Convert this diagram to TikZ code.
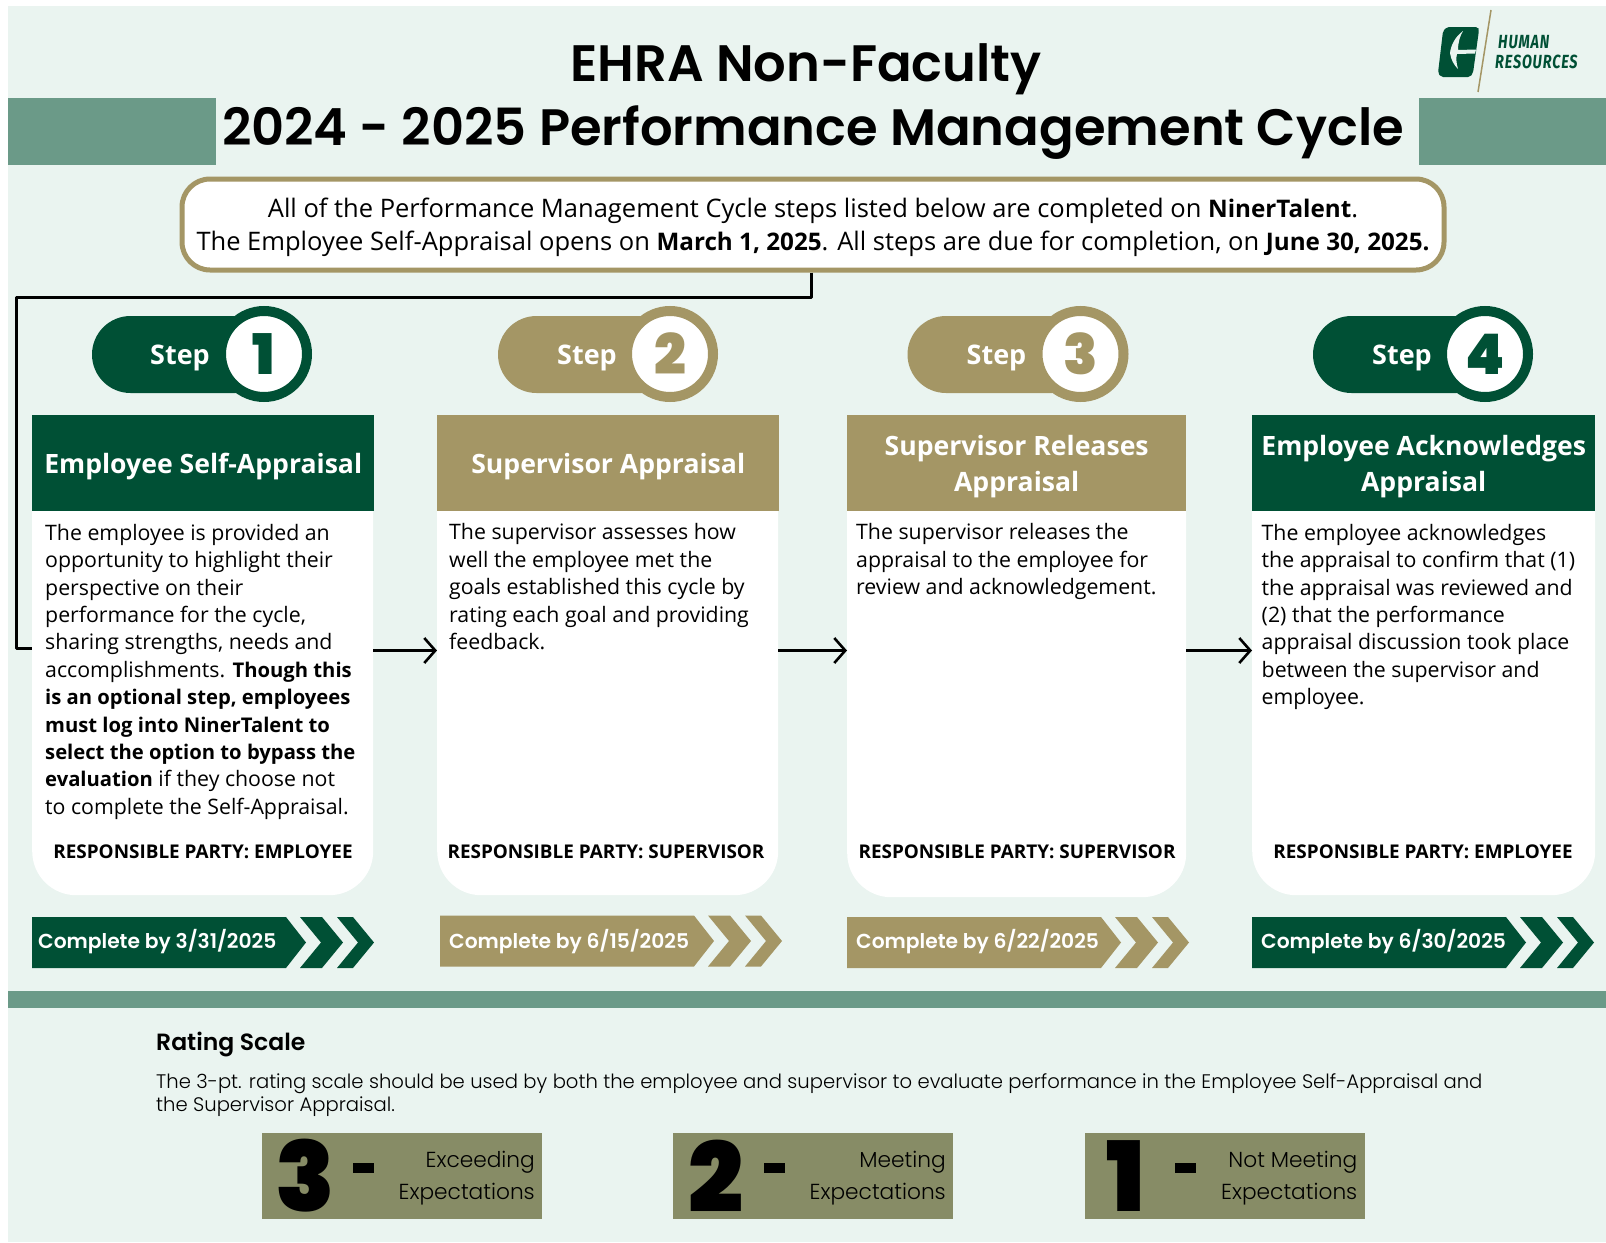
\documentclass[tikz,border=0pt]{standalone}
\usepackage{fontspec}
\usetikzlibrary{arrows.meta,calc}
\setmainfont{Open Sans}[BoldFeatures={Scale=0.95}]
\newfontfamily\semifont{Poppins SemiBold}
\newfontfamily\heavyfont{Poppins Black}
\newfontfamily\lightfont{Poppins Light}
\newfontfamily\logofont[ItalicFont=Fira Sans Italic,BoldItalicFont=Fira Sans Bold Italic,LetterSpace=6]{Fira Sans}
\definecolor{bgc}{HTML}{EAF4F0}
\definecolor{barc}{HTML}{6B9A88}
\definecolor{greenc}{HTML}{005035}
\definecolor{goldc}{HTML}{A49665}
\definecolor{olivec}{HTML}{878C66}
\tikzset{
  x=1pt,y=-1pt,
  cardbox/.style={fill=white,rounded corners=44pt,minimum width=#1,minimum height=480pt,inner sep=0pt,anchor=north west},
  headbox/.style={fill=#1,text=white,minimum height=96pt,inner sep=0pt,anchor=north west,align=center,font=\fontsize{28}{36}\selectfont\bfseries},
  bodytext/.style={anchor=north west,inner sep=0pt,align=left,font=\fontsize{21.3}{27.4}\selectfont},
  partytext/.style={inner sep=0pt,font=\fontsize{19.9}{24}\selectfont\bfseries},
  flow/.style={line width=2.6pt,black,-{Straight Barb[length=11pt,width=25pt,line width=2.6pt]}},
  steptext/.style={inner sep=0pt,text=white,font=\fontsize{28.4}{30}\selectfont\bfseries},
  ratebox/.style={fill=olivec,minimum width=280pt,minimum height=86pt,inner sep=0pt,anchor=north west},
  ratetext/.style={anchor=east,inner sep=0pt,align=right,font=\lightfont\fontsize{21.7}{33}\selectfont},
}
\newcommand{\stepbadge}[6]{% name, left, circle x, text x, colour, digit
  \fill[#5,rounded corners=38.5pt] (#2,316) rectangle (#3+10,393);
  \node[circle,fill=white,draw=#5,line width=10pt,minimum size=86pt,inner sep=0pt] (#1c) at (#3,354) {};
  \node[inner sep=0pt,text=#5,font=\heavyfont\fontsize{56}{56}\selectfont] (#1d) at (#3,354) {#6};
  \node[steptext] (#1t) at (#4,358) {Step};
}
\newcommand{\chevrow}[6]{% name, x, top y, colour, text, text position
  \begin{scope}[shift={(#2,#3)}]
    \fill[#4] (0,0) -- (254,0) -- (274,25.5) -- (254,51) -- (0,51) -- cycle;
    \fill[#4] (268,0) -- (290,0) -- (311,25.5) -- (290,51) -- (268,51) -- (289,25.5) -- cycle;
    \fill[#4] (305,0) -- (321,0) -- (342,25.5) -- (321,51) -- (305,51) -- (326,25.5) -- cycle;
    \node[anchor=west,inner sep=0pt,text=white,font=\semifont\fontsize{20.25}{24}\selectfont] (#1) at (#6) {#5};
  \end{scope}
}
\newcommand{\ratecard}[5]{% name, x, digit, line 1, digit x offset
  \node[ratebox] (#1) at (#2,1133) {};
  \node[inner sep=0pt,font=\heavyfont\fontsize{97}{97}\selectfont] (#1n) at (#2+#5,1176) {#3};
  \fill (#2+90.5,1163) rectangle (#2+111.5,1173);
  \node[ratetext] (#1a) at (#2+273,1162) {#4};
  \node[ratetext] (#1b) at (#2+273,1194.5) {Expectations};
}
\begin{document}
\begin{tikzpicture}
\useasboundingbox (0,0) rectangle (1606,1242);
\fill[white] (0,0) rectangle (1606,1242);
\fill[bgc] (8,6) rectangle (1606,1242);
% header bars
\fill[barc] (8,98) rectangle (216,165);
\fill[barc] (1419,98) rectangle (1606,165);
\node[anchor=base,inner sep=0pt,font=\semifont\fontsize{51.2}{60}\selectfont] (title1) at (806,81) {EHRA Non-Faculty};
\node[anchor=base,inner sep=0pt,font=\semifont\fontsize{51.2}{60}\selectfont] (title2) at (813,145) {2024 - 2025 Performance Management Cycle};
% logo
\fill[greenc,rounded corners=2pt] (1447,27) -- (1478,27) -- (1479,30) -- (1473,73) -- (1470,77) -- (1441,77) -- (1438,73) -- (1443,31) -- cycle;
\fill[bgc] (1463,31) .. controls (1455,37) and (1451,45) .. (1450,53) .. controls (1451,60) and (1454,65) .. (1458,69) .. controls (1456,62) and (1456,58) .. (1457,54) -- (1475,53.5) -- (1476,49.5) -- (1458,50) .. controls (1458,42) and (1460,36) .. (1463,31) -- cycle;
\draw[goldc,line width=1.5pt] (1491,10) -- (1478,92);
\node[anchor=west,inner sep=0pt,text=greenc] (hr1) at (1498,42) {\scalebox{0.76}[1]{\logofont\fontsize{19}{22}\selectfont\bfseries\itshape HUMAN}};
\node[anchor=west,inner sep=0pt,text=greenc] (hr2) at (1495,62) {\scalebox{0.76}[1]{\logofont\fontsize{19}{22}\selectfont\bfseries\itshape RESOURCES}};
% callout
\node[draw=goldc,fill=white,line width=5pt,rounded corners=28pt,minimum width=1262pt,minimum height=91pt,inner sep=0pt,align=center,font=\fontsize{25.5}{33.8}\selectfont] (callout) at (813,224.5)
  {\rule{0pt}{25pt}All of the Performance Management Cycle steps listed below are completed on \textbf{NinerTalent}.\\
   The Employee Self-Appraisal opens on \textbf{March 1, 2025}. All steps are due for completion, on \textbf{June 30, 2025.}};
% cards
\node[cardbox=341pt] (card1) at (32,415) {};
\node[cardbox=341pt] (card2) at (437,415) {};
\node[cardbox=339pt] (card3) at (847,417) {};
\node[cardbox=343pt] (card4) at (1252,415) {};
\node[headbox=greenc,minimum width=342pt] (head1) at (32,415) {\rule{0pt}{27pt}Employee Self-Appraisal};
\node[headbox=goldc,minimum width=342pt] (head2) at (437,415) {\rule{0pt}{27pt}Supervisor Appraisal};
\node[headbox=goldc,minimum width=339pt] (head3) at (847,415) {\rule{0pt}{27pt}Supervisor Releases\\Appraisal};
\node[headbox=greenc,minimum width=343pt] (head4) at (1252,415) {\rule{0pt}{27pt}Employee Acknowledges\\Appraisal};
\node[bodytext] (body1) at (45,524) {The employee is provided an\\opportunity to highlight their\\perspective on their\\performance for the cycle,\\sharing strengths, needs and\\accomplishments. \textbf{Though this}\\\textbf{is an optional step, employees}\\\textbf{must log into NinerTalent to}\\\textbf{select the option to bypass the}\\\textbf{evaluation} if they choose not\\to complete the Self-Appraisal.};
\node[bodytext] (body2) at (449,523.5) {The supervisor assesses how\\well the employee met the\\goals established this cycle by\\rating each goal and providing\\feedback.};
\node[bodytext] (body3) at (856,523.5) {The supervisor releases the\\appraisal to the employee for\\review and acknowledgement.};
\node[bodytext] (body4) at (1261.5,524) {The employee acknowledges\\the appraisal to confirm that (1)\\the appraisal was reviewed and\\(2) that the performance\\appraisal discussion took place\\between the supervisor and\\employee.};
\node[partytext] (party1) at (203,852) {RESPONSIBLE PARTY: EMPLOYEE};
\node[partytext] (party2) at (606,852) {RESPONSIBLE PARTY: SUPERVISOR};
\node[partytext] (party3) at (1017,852) {RESPONSIBLE PARTY: SUPERVISOR};
\node[partytext] (party4) at (1423,852) {RESPONSIBLE PARTY: EMPLOYEE};
% badges
\stepbadge{s1}{92}{264}{180}{greenc}{1}
\stepbadge{s2}{498}{670}{587}{goldc}{2}
\stepbadge{s3}{907.5}{1080.5}{996.5}{goldc}{3}
\stepbadge{s4}{1313}{1485}{1402}{greenc}{4}
% connectors
\coordinate (row) at (0,650.5);
\coordinate (drop) at (811,297);
\coordinate (leftbar) at (16.5,297);
\draw[line width=3pt,black,line join=round] (callout.south -| drop) -- (drop) -- (leftbar) |- (card1.west |- 0,648);
\draw[flow] (card1.east |- row) -- (card2.west |- row);
\draw[flow] (card2.east |- row) -- (card3.west |- row);
\draw[flow] (card3.east |- row) -- (card4.west |- row);
% deadlines
\chevrow{due1}{32}{917}{greenc}{Complete by 3/31/2025}{6,25}
\chevrow{due2}{440}{915.5}{goldc}{Complete by 6/15/2025}{9,26}
\chevrow{due3}{847}{917}{goldc}{Complete by 6/22/2025}{9,25}
\chevrow{due4}{1252}{917}{greenc}{Complete by 6/30/2025}{9,25}
% lower section
\fill[barc] (8,991) rectangle (1606,1008);
\node[anchor=west,inner sep=0pt,font=\semifont\fontsize{23.5}{28}\selectfont] (rs) at (156,1044) {Rating Scale};
\node[anchor=north west,inner sep=0pt,align=left,font=\lightfont\fontsize{19.6}{23.6}\selectfont] (rp) at (156,1073) {The 3-pt. rating scale should be used by both the employee and supervisor to evaluate performance in the Employee Self-Appraisal and\\the Supervisor Appraisal.};
\ratecard{r3}{262}{3}{Exceeding}{43}
\ratecard{r2}{673}{2}{Meeting}{43}
\ratecard{r1}{1084.5}{1}{Not Meeting}{41}
\end{tikzpicture}
\end{document}
